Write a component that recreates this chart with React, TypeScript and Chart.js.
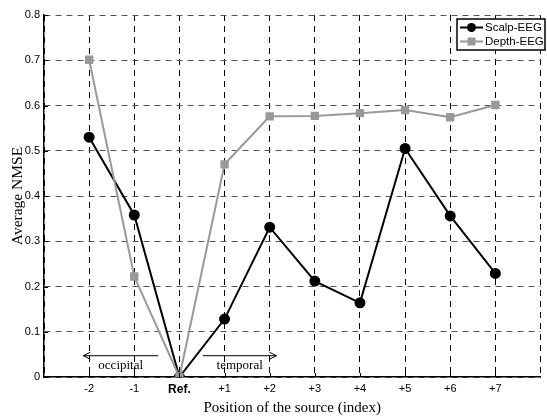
import React, { useEffect, useRef } from "react";
import { Chart, registerables } from "chart.js";

Chart.register(...registerables);

const positions = [-2, -1, 0, 1, 2, 3, 4, 5, 6, 7];
const tickLabels = ["-2", "-1", "Ref.", "+1", "+2", "+3", "+4", "+5", "+6", "+7"];
const scalpEEG = [0.53, 0.358, 0.0, 0.128, 0.331, 0.212, 0.164, 0.505, 0.356, 0.229];
const depthEEG = [0.701, 0.222, 0.0, 0.47, 0.576, 0.577, 0.583, 0.59, 0.574, 0.601];
const yTicks = [0, 0.1, 0.2, 0.3, 0.4, 0.5, 0.6, 0.7, 0.8];
const regionNotes = [
  { label: "occipital", from: -2.13, to: -0.47, head: "left" },
  { label: "temporal", from: 0.52, to: 2.15, head: "right" },
];

const annotationPlugin = {
  id: "annot",
  afterDraw(chart: any) {
    const ctx = chart.ctx;
    const xs = chart.scales.x;
    const ys = chart.scales.y;
    ctx.save();
    // inward tick marks
    ctx.strokeStyle = "#000";
    ctx.lineWidth = 1;
    const ca = chart.chartArea;
    yTicks.forEach((v) => {
      const y = Math.round(ys.getPixelForValue(v)) + 0.5;
      ctx.beginPath();
      ctx.moveTo(ca.left, y);
      ctx.lineTo(ca.left + 4, y);
      ctx.stroke();
    });
    positions.forEach((p) => {
      const x = Math.round(xs.getPixelForValue(p)) + 0.5;
      ctx.beginPath();
      ctx.moveTo(x, ca.bottom);
      ctx.lineTo(x, ca.bottom - 4);
      ctx.stroke();
    });
    // region arrows
    ctx.fillStyle = "#000";
    ctx.font = "13px 'Liberation Serif'";
    ctx.textAlign = "center";
    ctx.textBaseline = "middle";
    const ay = ys.getPixelForValue(0.047);
    regionNotes.forEach((n) => {
      const x1 = xs.getPixelForValue(n.from);
      const x2 = xs.getPixelForValue(n.to);
      ctx.beginPath();
      ctx.moveTo(x1, ay);
      ctx.lineTo(x2, ay);
      ctx.stroke();
      const hx = n.head === "left" ? x1 : x2;
      const d = n.head === "left" ? 1 : -1;
      ctx.beginPath();
      ctx.moveTo(hx + d * 7, ay - 3.5);
      ctx.lineTo(hx, ay);
      ctx.lineTo(hx + d * 7, ay + 3.5);
      ctx.stroke();
      ctx.fillText(n.label, (x1 + x2) / 2, ay + 10);
    });
    // legend
    const bx = 457, by = 19, bw = 88, bh = 31;
    ctx.fillStyle = "#fff";
    ctx.fillRect(bx, by, bw, bh);
    ctx.lineWidth = 1.5;
    ctx.strokeStyle = "#000";
    ctx.strokeRect(bx, by, bw, bh);
    ctx.font = "11.5px 'Liberation Sans'";
    ctx.textAlign = "left";
    chart.data.datasets.forEach((ds: any, i: number) => {
      const ry = by + 8.5 + i * 14;
      ctx.strokeStyle = ds.borderColor;
      ctx.lineWidth = 2;
      ctx.beginPath();
      ctx.moveTo(bx + 3, ry);
      ctx.lineTo(bx + 26, ry);
      ctx.stroke();
      ctx.fillStyle = ds.pointBackgroundColor;
      if (ds.pointStyle === "rect") {
        ctx.fillRect(bx + 14.5 - 4, ry - 4, 8, 8);
      } else {
        ctx.beginPath();
        ctx.arc(bx + 14.5, ry, 4.5, 0, Math.PI * 2);
        ctx.fill();
      }
      ctx.fillStyle = "#000";
      ctx.fillText(ds.label, bx + 28, ry + 0.5);
    });
    ctx.restore();
  },
};

export default function App() {
  const ref = useRef<HTMLCanvasElement>(null);
  useEffect(() => {
    document.body.style.margin = "0";
    const chart = new Chart(ref.current!, {
      type: "line",
      data: {
        datasets: [
          {
            label: "Scalp-EEG",
            data: positions.map((p, i) => ({ x: p, y: scalpEEG[i] })),
            borderColor: "#000",
            backgroundColor: "#000",
            pointBackgroundColor: "#000",
            pointBorderColor: "#000",
            pointStyle: "circle",
            pointRadius: 4.5,
            borderWidth: 2,
            tension: 0,
            order: 2,
          },
          {
            label: "Depth-EEG",
            data: positions.map((p, i) => ({ x: p, y: depthEEG[i] })),
            borderColor: "#999",
            backgroundColor: "#999",
            pointBackgroundColor: "#999",
            pointBorderColor: "#999",
            pointStyle: "rect",
            pointRadius: 4.5,
            borderWidth: 2,
            tension: 0,
            order: 1,
          },
        ],
      },
      options: {
        animation: false,
        responsive: false,
        devicePixelRatio: 1,
        layout: { padding: { top: 15, right: 1, left: 0, bottom: 0 } },
        plugins: { legend: { display: false }, tooltip: { enabled: false } },
        scales: {
          x: {
            type: "linear",
            min: -3,
            max: 8,
            afterBuildTicks(axis: any) {
              axis.ticks = [-3, ...positions, 8].map((v) => ({ value: v }));
            },
            afterFit(axis: any) {
              axis.height = 40;
            },
            ticks: {
              autoSkip: false,
              maxRotation: 0,
              padding: 5,
              color: "#000",
              font: (c: any) =>
                c.tick && c.tick.value === 0
                  ? { family: "'Liberation Sans'", size: 12, weight: "bold" }
                  : { family: "'Liberation Sans'", size: 11 },
              callback: (v: any) => {
                const i = positions.indexOf(Number(v));
                return i >= 0 ? tickLabels[i] : "";
              },
            },
            grid: { color: "#000", lineWidth: 1, drawTicks: false },
            border: { display: true, color: "#000", width: 1.5, dash: [6, 5] },
            title: {
              display: true,
              text: "Position of the source (index)",
              color: "#000",
              font: { family: "'Liberation Serif'", size: 15 },
              padding: { top: 2, bottom: 0 },
            },
          },
          y: {
            min: 0,
            max: 0.8,
            afterBuildTicks(axis: any) {
              axis.ticks = yTicks.map((v) => ({ value: v }));
            },
            afterFit(axis: any) {
              axis.width = 44;
            },
            ticks: {
              color: "#000",
              padding: 4,
              font: { family: "'Liberation Sans'", size: 11 },
              callback: (v: any) => (Number(v) === 0 ? "0" : Number(v).toFixed(1)),
            },
            grid: { color: "#555", lineWidth: 1, drawTicks: false },
            border: { display: true, color: "#000", width: 1.5, dash: [6, 5] },
            title: {
              display: true,
              text: "Average NMSE",
              color: "#000",
              font: { family: "'Liberation Serif'", size: 15.5 },
              padding: { top: 9, bottom: 0 },
            },
          },
        },
      },
      plugins: [annotationPlugin],
    } as any);
    return () => chart.destroy();
  }, []);
  return (
    <div style={{ width: 547, height: 417, background: "#fff" }}>
      <canvas ref={ref} width={547} height={417} style={{ display: "block" }} />
    </div>
  );
}
